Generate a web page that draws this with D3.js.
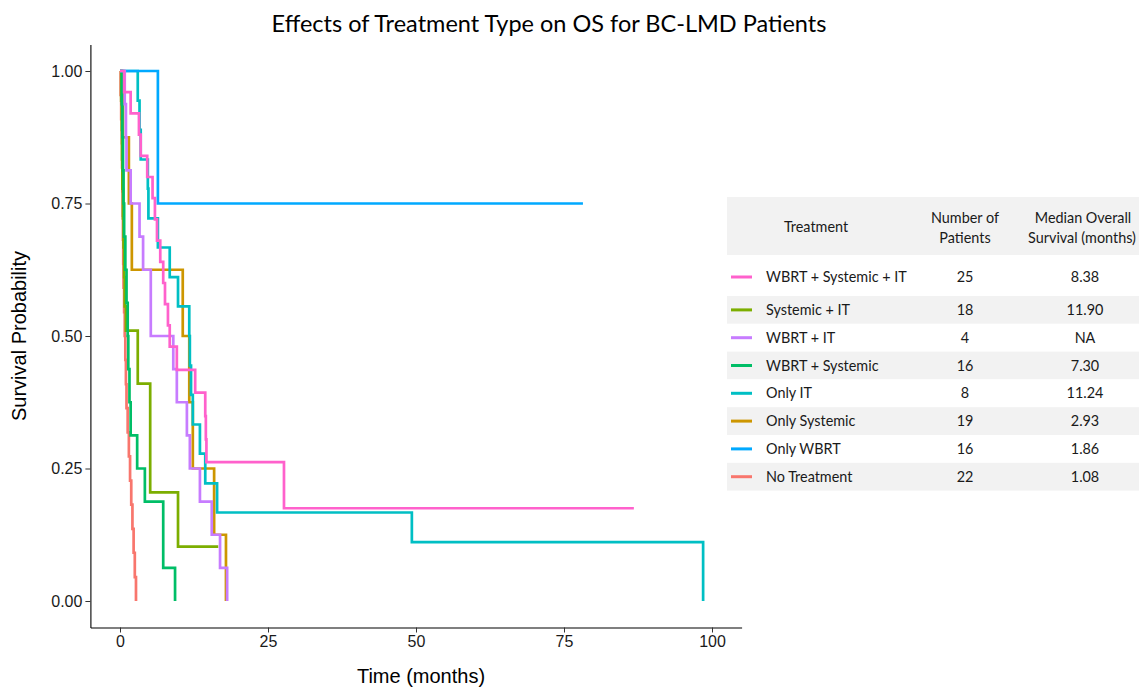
<!DOCTYPE html>
<html>
<head>
<meta charset="utf-8">
<script src="https://cdn.jsdelivr.net/npm/d3@7"></script>
<style>
  body { margin: 0; background: #fff; }
  svg { display: block; }
  .axis text { font-family: "Liberation Sans", Arial, sans-serif; font-size: 16px; fill: #1a1a1a; }
  .axis line { stroke: #333; }
  .axis path { stroke: #000; stroke-width: 1.1; }
  .tbl text { font-family: Lato, "Open Sans", sans-serif; font-size: 14.4px; fill: #1a1a1a; }
</style>
</head>
<body>
<svg width="1139" height="687"></svg>
<script>
// survival curves (time in months, survival after each drop)
var tRed = [0, 0.1, 0.2, 0.3, 0.35, 0.4, 0.45, 0.5, 0.55, 0.6, 0.7, 0.8, 0.9, 1.0, 1.1, 1.3, 1.5, 1.7, 1.9, 2.1, 2.3, 2.5, 2.7];
var sRed = [1, 0.955, 0.909, 0.864, 0.818, 0.773, 0.727, 0.682, 0.636, 0.591, 0.545, 0.5, 0.455, 0.409, 0.364, 0.318, 0.273, 0.227, 0.182, 0.136, 0.091, 0.045, 0];

var tGold = [0, 0.5, 1.5, 2.0, 10.6, 11.7, 12.3, 15.9, 17.9];
var sGold = [1, 0.875, 0.75, 0.625, 0.5, 0.375, 0.25, 0.125, 0];

var tOlive = [0, 0.2, 0.3, 0.35, 0.4, 0.5, 0.6, 0.7, 0.8, 1.0, 3.0, 5.1, 9.8, 16.6];
var sOlive = [1, 0.944, 0.889, 0.833, 0.778, 0.722, 0.667, 0.611, 0.556, 0.51, 0.41, 0.205, 0.1025, 0.1025];

var tGreen = [0, 0.3, 0.4, 0.5, 0.6, 0.7, 0.9, 1.1, 1.3, 1.4, 1.6, 1.8, 2.9, 4.2, 7.3, 9.3];
var sGreen = [1, 0.9375, 0.875, 0.8125, 0.75, 0.6875, 0.625, 0.5625, 0.5, 0.4375, 0.375, 0.3125, 0.25, 0.1875, 0.0625, 0];

var tCyan = [0, 3.0, 3.3, 3.5, 4.7, 4.8, 6.4, 8.4, 9.8, 11.7, 11.8, 12.0, 12.3, 13.5, 14.4, 16.4, 49.3, 98.5];
var sCyan = [1, 0.944, 0.889, 0.833, 0.778, 0.722, 0.667, 0.611, 0.556, 0.5, 0.444, 0.389, 0.333, 0.278, 0.222, 0.167, 0.111, 0];

var tBlue = [0, 6.4, 78.2];
var sBlue = [1, 0.75, 0.75];

var tPurple = [0, 0.8, 1.0, 1.1, 1.8, 3.3, 3.9, 5.2, 9.0, 9.6, 11.3, 11.8, 13.5, 15.5, 16.9, 18.1];
var sPurple = [1, 0.9375, 0.875, 0.8125, 0.75, 0.6875, 0.625, 0.5, 0.4375, 0.375, 0.3125, 0.25, 0.1875, 0.125, 0.0625, 0];

var tPink = [0, 0.7, 1.8, 3.2, 3.5, 4.6, 5.5, 5.9, 6.25, 6.8, 7.3, 7.6, 8.1, 8.4, 9.6, 12.7, 14.4, 14.5, 14.6, 27.7, 86.8];
var sPink = [1, 0.96, 0.92, 0.88, 0.84, 0.80, 0.76, 0.72, 0.68, 0.64, 0.60, 0.56, 0.52, 0.48, 0.436, 0.393, 0.349, 0.305, 0.262, 0.175, 0.175];

// table
var treatments = ["WBRT + Systemic + IT", "Systemic + IT", "WBRT + IT", "WBRT + Systemic", "Only IT", "Only Systemic", "Only WBRT", "No Treatment"];
var patients = ["25", "18", "4", "16", "8", "19", "16", "22"];
var medians = ["8.38", "11.90", "NA", "7.30", "11.24", "2.93", "1.86", "1.08"];
var colors = ["#FF61CC", "#7CAE00", "#C77CFF", "#00BE67", "#00BFC4", "#CD9600", "#00A9FF", "#F8766D"];

var xTicks = [0, 25, 50, 75, 100];
var yTicks = [0, 0.25, 0.5, 0.75, 1];

// drawing order like ggplot's factor levels
var curves = [
  { t: tRed, s: sRed, color: "#F8766D" },
  { t: tGold, s: sGold, color: "#CD9600" },
  { t: tOlive, s: sOlive, color: "#7CAE00" },
  { t: tGreen, s: sGreen, color: "#00BE67" },
  { t: tCyan, s: sCyan, color: "#00BFC4" },
  { t: tBlue, s: sBlue, color: "#00A9FF" },
  { t: tPurple, s: sPurple, color: "#C77CFF" },
  { t: tPink, s: sPink, color: "#FF61CC" }
];

var svg = d3.select("svg");

var x = d3.scaleLinear().domain([-5, 105]).range([90.4, 741.6]);
var y = d3.scaleLinear().domain([-0.05, 1.05]).range([627.5, 44.5]);

svg.append("text")
  .attr("x", 549)
  .attr("y", 32)
  .attr("text-anchor", "middle")
  .style("font-family", "Lato, 'Open Sans', sans-serif")
  .style("font-size", "23.5px")
  .style("fill", "#000")
  .text("Effects of Treatment Type on OS for BC-LMD Patients");

svg.append("g")
  .attr("class", "axis")
  .attr("transform", "translate(0,627.5)")
  .call(d3.axisBottom(x).tickValues(xTicks).tickSize(5).tickSizeOuter(0).tickPadding(3));

svg.append("g")
  .attr("class", "axis")
  .attr("transform", "translate(90.4,0)")
  .call(d3.axisLeft(y).tickValues(yTicks).tickFormat(d3.format(".2f")).tickSize(5).tickSizeOuter(0).tickPadding(3));

svg.append("text")
  .attr("x", 421)
  .attr("y", 683)
  .attr("text-anchor", "middle")
  .style("font-family", "'Liberation Sans', Arial, sans-serif")
  .style("font-size", "20px")
  .style("fill", "#000")
  .text("Time (months)");

svg.append("text")
  .attr("transform", "translate(26,336) rotate(-90)")
  .attr("text-anchor", "middle")
  .style("font-family", "'Liberation Sans', Arial, sans-serif")
  .style("font-size", "20px")
  .style("fill", "#000")
  .text("Survival Probability");

var line = d3.line()
  .x(function(d) { return x(d[0]); })
  .y(function(d) { return y(d[1]); })
  .curve(d3.curveStepAfter);

svg.append("g")
  .attr("class", "curves")
  .selectAll("path")
  .data(curves)
  .enter().append("path")
  .attr("d", function(c) { return line(d3.zip(c.t, c.s)); })
  .attr("fill", "none")
  .attr("stroke", function(c) { return c.color; })
  .attr("stroke-width", 2.7);

// ---- table legend ----
var tbl = svg.append("g").attr("class", "tbl");

function rowTop(i) { return i === 0 ? 255 : 296 + (i - 1) * 27.8; }
function rowH(i) { return i === 0 ? 41 : 27.8; }

tbl.append("rect")
  .attr("x", 727).attr("y", 197)
  .attr("width", 412).attr("height", 58)
  .attr("fill", "#f2f2f2");

tbl.selectAll("rect.band")
  .data(treatments)
  .enter().append("rect")
  .attr("class", "band")
  .attr("x", 727)
  .attr("y", function(d, i) { return rowTop(i); })
  .attr("width", 412)
  .attr("height", function(d, i) { return rowH(i); })
  .attr("fill", function(d, i) { return i % 2 === 1 ? "#f2f2f2" : "#fff"; });

tbl.append("text").attr("x", 816).attr("y", 227).attr("dy", "0.35em")
  .attr("text-anchor", "middle").text("Treatment");
tbl.append("text").attr("x", 965).attr("y", 218).attr("dy", "0.35em")
  .attr("text-anchor", "middle").text("Number of");
tbl.append("text").attr("x", 965).attr("y", 238).attr("dy", "0.35em")
  .attr("text-anchor", "middle").text("Patients");
tbl.append("text").attr("x", 1083).attr("y", 218).attr("dy", "0.35em")
  .attr("text-anchor", "middle").text("Median Overall");
tbl.append("text").attr("x", 1082).attr("y", 238).attr("dy", "0.35em")
  .attr("text-anchor", "middle").text("Survival (months)");

var rows = tbl.selectAll("g.row")
  .data(treatments)
  .enter().append("g")
  .attr("class", "row")
  .attr("transform", function(d, i) {
    var cy = i === 0 ? 277 : rowTop(i) + rowH(i) / 2;
    return "translate(0," + cy + ")";
  });

rows.append("line")
  .attr("x1", 731).attr("x2", 752)
  .attr("y1", 0).attr("y2", 0)
  .attr("stroke", function(d, i) { return colors[i]; })
  .attr("stroke-width", 3);

rows.append("text")
  .attr("x", 766).attr("dy", "0.35em")
  .text(function(d) { return d; });

rows.append("text")
  .attr("x", 965).attr("dy", "0.35em")
  .attr("text-anchor", "middle")
  .text(function(d, i) { return patients[i]; });

rows.append("text")
  .attr("x", 1085).attr("dy", "0.35em")
  .attr("text-anchor", "middle")
  .text(function(d, i) { return medians[i]; });
</script>
</body>
</html>
